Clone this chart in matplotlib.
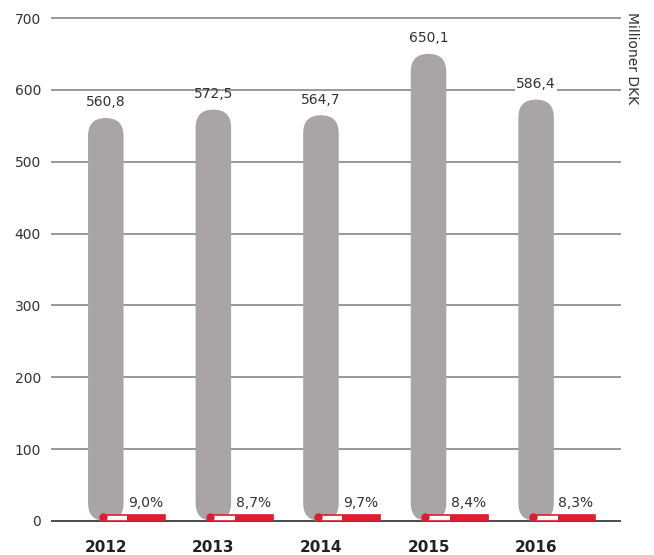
import numpy as np
import matplotlib.pyplot as plt
from matplotlib.patches import FancyBboxPatch, Rectangle

# data
years = ['2012', '2013', '2014', '2015', '2016']
values = [560.8, 572.5, 564.7, 650.1, 586.4]
value_labels = ['560,8', '572,5', '564,7', '650,1', '586,4']
pct_labels = ['9,0%', '8,7%', '9,7%', '8,4%', '8,3%']
yticks = [0, 100, 200, 300, 400, 500, 600, 700]

fig = plt.figure(figsize=(6.54, 5.55), dpi=100)
ax = fig.add_axes([52/654, 34/555, 568/654, 503/555])
ax.set_xlim(-0.5, 4.78)
ax.set_ylim(0, 700)

# grid
for t in yticks:
    c = '#4a4a4a' if t == 0 else '#999999'
    ax.axhline(t, color=c, lw=1.4, zorder=1, clip_on=False)

bar_w = 0.33
x = np.arange(len(years))
for i, v in enumerate(values):
    # rounded bar
    p = FancyBboxPatch((x[i] - bar_w/2 + 0.08, 12), bar_w - 0.16, v - 24,
                       boxstyle="round,pad=0.08,rounding_size=0.165",
                       mutation_aspect=150, fc='#a9a5a6', ec='none', zorder=2)
    ax.add_patch(p)
    ax.text(x[i], v + 12, value_labels[i], ha='center', va='bottom',
            fontsize=10, color='#333333', zorder=4,
            bbox=dict(fc='white', ec='none', pad=1) if i == 4 else None)

    # little red percentage marker
    x0 = x[i] - 0.03
    x1 = x[i] + 0.2
    x2 = x[i] + 0.55
    ax.add_patch(Rectangle((x0, 0), x2 - x0, 9, fc='white', ec='#d8202f',
                           lw=1.2, zorder=3))
    ax.add_patch(Rectangle((x1, 0), x2 - x1, 9, fc='#d8202f', ec='none',
                           zorder=3))
    ax.plot([x0], [5], 'o', color='#d8202f', ms=5, zorder=4)
    ax.text(x[i] + 0.37, 15, pct_labels[i], ha='center', va='bottom',
            fontsize=10, color='#333333', zorder=4)

ax.set_xticks(x)
ax.set_xticklabels(years, fontsize=11, fontweight='bold', color='#222222')
ax.set_yticks(yticks)
ax.set_yticklabels([str(t) for t in yticks], fontsize=10, color='#333333')
ax.tick_params(length=0, axis='y', pad=8)
ax.tick_params(length=0, axis='x', pad=14)
for s in ax.spines.values():
    s.set_visible(False)

fig.text(632/654, 1 - 12/555, 'Millioner DKK', rotation=-90, ha='center',
         va='top', fontsize=10, color='#333333')

fig.savefig('out.png', dpi=100)
